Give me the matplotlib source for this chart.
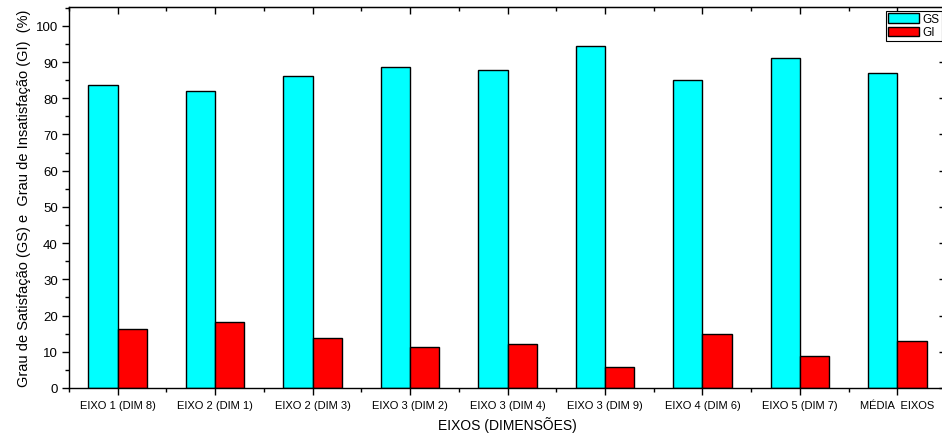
import numpy as np
import matplotlib
matplotlib.use('Agg')
import matplotlib.pyplot as plt
from matplotlib.ticker import FixedLocator, MultipleLocator

plt.rcParams['font.family'] = ['Liberation Sans', 'DejaVu Sans']

categories = ['EIXO 1 (DIM 8)', 'EIXO 2 (DIM 1)', 'EIXO 2 (DIM 3)', 'EIXO 3 (DIM 2)',
              'EIXO 3 (DIM 4)', 'EIXO 3 (DIM 9)', 'EIXO 4 (DIM 6)', 'EIXO 5 (DIM 7)',
              'MÉDIA  EIXOS']
gs = [83.7, 81.9, 86.1, 88.7, 87.7, 94.3, 85.0, 91.2, 86.9]
gi = [16.2, 18.1, 13.8, 11.2, 12.2, 5.7, 15.0, 8.7, 13.1]

x = np.arange(len(categories))
width = 0.3

fig = plt.figure(figsize=(9.42, 4.39), dpi=100)
ax = fig.add_axes([69 / 942, 1 - 389 / 439, (946 - 69) / 942, (389 - 8) / 439])

ax.bar(x - width / 2, gs, width, color='#00ffff', edgecolor='black', linewidth=1, label='GS')
ax.bar(x + width / 2, gi, width, color='#ff0000', edgecolor='black', linewidth=1, label='GI')

ax.set_xlim(-0.5, 8.5)
ax.set_ylim(0, 105.2)

ax.set_xticks(x)
ax.set_xticklabels(categories, fontsize=8)
ax.xaxis.set_minor_locator(FixedLocator(np.arange(-0.5, 9, 1)))
ax.set_yticks(np.arange(0, 101, 10))
ax.yaxis.set_minor_locator(MultipleLocator(5))
ax.tick_params(axis='y', labelsize=9.5, direction='out', length=5, width=1, pad=3)
ax.tick_params(axis='x', direction='out', length=5, width=1, pad=4)
ax.tick_params(which='minor', direction='out', length=3, width=1)

# top and right ticks point inward
top = ax.secondary_xaxis('top')
top.set_xticks(x)
top.xaxis.set_minor_locator(FixedLocator(np.arange(-0.5, 9, 1)))
top.tick_params(axis='x', direction='in', length=5, width=1, labeltop=False)
top.tick_params(which='minor', direction='in', length=3, width=1)

right = ax.secondary_yaxis('right')
right.set_yticks(np.arange(0, 101, 10))
right.tick_params(axis='y', direction='in', length=5, width=1, labelright=False)

for s in ax.spines.values():
    s.set_linewidth(1)

ax.set_xlabel('EIXOS (DIMENSÕES)', fontsize=10, labelpad=4)
ax.set_ylabel('Grau de Satisfação (GS) e  Grau de Insatisfação (GI)  (%)', fontsize=10.5, labelpad=3)

leg = ax.legend(loc='upper right', bbox_to_anchor=(0.9955, 0.99), fontsize=8.5,
                frameon=True, fancybox=False, edgecolor='black', framealpha=1,
                borderaxespad=0, handlelength=2.6, handleheight=0.85,
                borderpad=0.2, labelspacing=0.1, handletextpad=0.35)
leg.get_frame().set_linewidth(0.8)

fig.savefig('out.png', dpi=100)
